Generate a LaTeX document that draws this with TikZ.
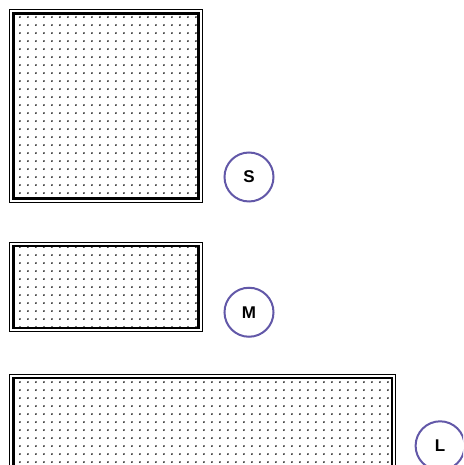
\documentclass[tikz,border=0pt]{standalone}
\usepackage{fontspec}
\setmainfont{Liberation Sans}
\usetikzlibrary{positioning, calc, patterns.meta}

\definecolor{tagpurple}{RGB}{98,88,168}

\tikzdeclarepattern{
  name=griddots,
  type=uncolored,
  bounding box={(0pt,0pt) and (8.4pt,8.4pt)},
  tile size={(8.4pt,8.4pt)},
  code={\fill (4.2pt,4.2pt) circle (1pt);}
}

\tikzset{
  panel/.style={rectangle, draw=black, line width=1pt, inner sep=0pt,
                path picture={
                  \draw[line width=2.5pt]
                    ($(path picture bounding box.south west)+(3.8pt,3.8pt)$) rectangle
                    ($(path picture bounding box.north east)+(-3.8pt,-3.8pt)$);
                  \fill[pattern=griddots]
                    ($(path picture bounding box.south west)+(5.6pt,5.6pt)$) rectangle
                    ($(path picture bounding box.north east)+(-5.6pt,-5.6pt)$);
                }},
  sizetag/.style={circle, draw=tagpurple, line width=2pt, minimum size=49pt,
                  inner sep=0pt, font=\fontsize{17}{20}\selectfont\bfseries},
}

\begin{document}
\begin{tikzpicture}[x=1pt, y=1pt]
  \useasboundingbox (0,0) rectangle (463,465);
  \clip (0,0) rectangle (463,465);

  % Panels
  \node[panel, minimum width=193pt, minimum height=193pt] (sbox) at (106,359) {};
  \node[panel, minimum width=193pt, minimum height=89.5pt] (mbox) at (106,178) {};
  \node[panel, minimum width=386pt, minimum height=190pt] (lbox) at (202.6,-4.3) {};

  % Size tags
  \node[sizetag] (stag) at ($(sbox.south east)+(46,26)$) {S};
  \node[sizetag] (mtag) at ($(mbox.south east)+(46,20)$) {M};
  \node[sizetag] (ltag) at ($(lbox.north east)+(44,-72)$) {L};
\end{tikzpicture}
\end{document}
